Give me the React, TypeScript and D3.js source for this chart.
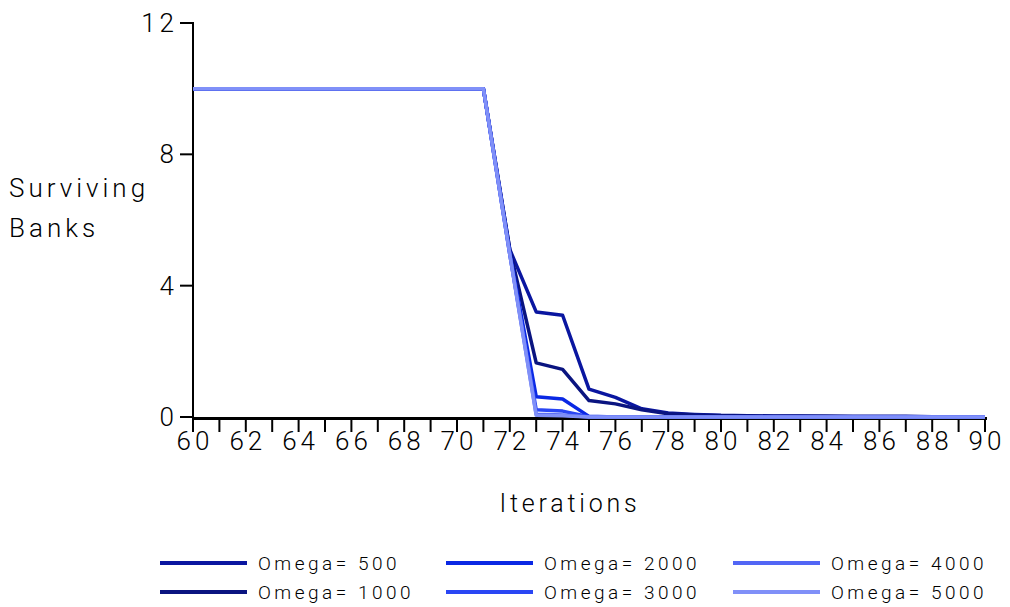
import React from "react";
import * as d3 from "d3";

const iterations = d3.range(60, 91);
const seriesNames = ["Omega= 500", "Omega= 1000", "Omega= 2000", "Omega= 3000", "Omega= 4000", "Omega= 5000"];
const seriesColors = ["#0a16a0", "#0a1480", "#0a28e4", "#2a46f4", "#5266f5", "#8090f8"];
const plateau = [10, 10, 10, 10, 10, 10, 10, 10, 10, 10, 10, 10];
const omega500 = [...plateau, 5.1, 3.2, 3.1, 0.85, 0.6, 0.25, 0.12, 0.08, 0.05, 0.04, 0.03, 0.03, 0.02, 0.02, 0.02, 0.02, 0.01, 0.01, 0, 0];
const omega1000 = [...plateau, 5.1, 1.65, 1.45, 0.5, 0.4, 0.22, 0.1, 0.06, 0.04, 0.03, 0.02, 0.02, 0.02, 0.01, 0.01, 0.01, 0.01, 0, 0, 0];
const omega2000 = [...plateau, 5.0, 0.62, 0.55, 0.02, 0, 0, 0, 0, 0, 0, 0, 0, 0, 0, 0, 0, 0, 0, 0];
const omega3000 = [...plateau, 4.95, 0.22, 0.18, 0.01, 0, 0, 0, 0, 0, 0, 0, 0, 0, 0, 0, 0, 0, 0, 0];
const omega4000 = [...plateau, 4.95, 0.08, 0.06, 0, 0, 0, 0, 0, 0, 0, 0, 0, 0, 0, 0, 0, 0, 0, 0];
const omega5000 = [...plateau, 4.95, 0.05, 0.04, 0, 0, 0, 0, 0, 0, 0, 0, 0, 0, 0, 0, 0, 0, 0, 0];
const allSeries = [omega500, omega1000, omega2000, omega3000, omega4000, omega5000];
const yTicks = [0, 4, 8, 12];
const xLabelTicks = d3.range(60, 91, 2);

const FONT = "Roboto, 'Open Sans', sans-serif";

export default function App() {
  const x = d3.scaleLinear().domain([60, 90]).range([193, 985]);
  const y = d3.scaleLinear().domain([0, 12]).range([417, 23]);
  const line = d3
    .line<number>()
    .x((_, i) => x(iterations[i]))
    .y((d) => y(d));

  return (
    <svg width={1010} height={607} style={{ position: "absolute", left: 0, top: 0, background: "#fff" }}>
      {/* y axis */}
      <line x1={193} x2={193} y1={22} y2={419} stroke="#000" strokeWidth={2} />
      {yTicks.map((t) => (
        <g key={t}>
          <line x1={180} x2={193} y1={y(t)} y2={y(t)} stroke="#000" strokeWidth={2} />
          <text
            x={178}
            y={y(t)}
            textAnchor="end"
            dominantBaseline="central"
            fontFamily={FONT}
            fontWeight={300}
            fontSize={26}
            letterSpacing={4}
          >
            {t}
          </text>
        </g>
      ))}
      {/* x axis */}
      <line x1={192} x2={987} y1={418.5} y2={418.5} stroke="#000" strokeWidth={3} />
      {iterations.map((t) => (
        <line key={t} x1={x(t)} x2={x(t)} y1={418} y2={432} stroke="#000" strokeWidth={2} />
      ))}
      {xLabelTicks.map((t) => (
        <text
          key={t}
          x={x(t) + 2}
          y={441}
          textAnchor="middle"
          dominantBaseline="central"
          fontFamily={FONT}
          fontWeight={300}
          fontSize={26}
          letterSpacing={4}
        >
          {t}
        </text>
      ))}
      <text x={570} y={503} textAnchor="middle" dominantBaseline="central" fontFamily={FONT} fontWeight={300} fontSize={25} letterSpacing={3.8}>
        Iterations
      </text>
      <text x={9} y={188} dominantBaseline="central" fontFamily={FONT} fontWeight={300} fontSize={26} letterSpacing={4}>
        Surviving
      </text>
      <text x={9} y={228} dominantBaseline="central" fontFamily={FONT} fontWeight={300} fontSize={26} letterSpacing={4}>
        Banks
      </text>
      {/* series */}
      {allSeries.map((s, i) => (
        <path key={i} d={line(s) || ""} fill="none" stroke={seriesColors[i]} strokeWidth={3.5} strokeLinejoin="round" />
      ))}
      {/* legend */}
      {seriesNames.map((name, i) => {
        const col = Math.floor(i / 2);
        const row = i % 2;
        const lx = [160, 446, 733][col];
        const ly = [563, 592][row];
        return (
          <g key={name}>
            <line x1={lx} x2={lx + 87} y1={ly} y2={ly} stroke={seriesColors[i]} strokeWidth={4} />
            <text x={lx + 98} y={ly} dominantBaseline="central" fontFamily={FONT} fontWeight={300} fontSize={19} letterSpacing={3.5}>
              {name}
            </text>
          </g>
        );
      })}
    </svg>
  );
}
